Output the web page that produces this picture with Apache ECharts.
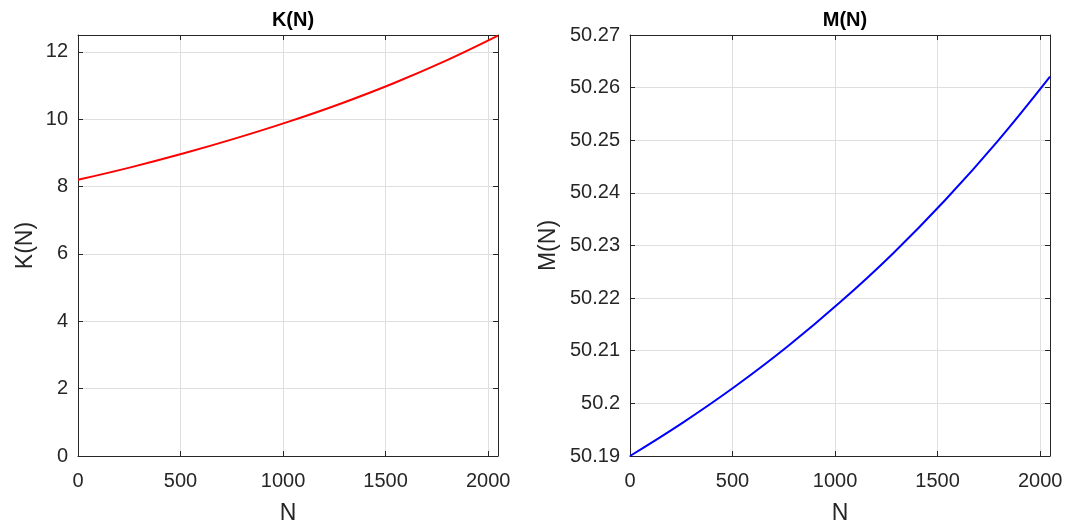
<!DOCTYPE html>
<html>
<head>
<meta charset="utf-8">
<script src="https://cdn.jsdelivr.net/npm/echarts@6/dist/echarts.min.js"></script>
<style>
  html, body { margin: 0; padding: 0; background: #fff; }
  #chart { width: 1073px; height: 525px; }
</style>
</head>
<body>
<div id="chart"></div>
<script>
// sample points
var nValues = [0, 256, 512, 768, 1024, 1280, 1536, 1792, 2048]
var kValues = [8.20, 8.57, 8.98, 9.43, 9.92, 10.46, 11.06, 11.73, 12.48]
var mValues = [50.19, 50.1963, 50.2032, 50.2108, 50.2192, 50.2284, 50.2386, 50.2498, 50.2621]

var FONT = '"Liberation Sans", Arial, Helvetica, sans-serif'
var TXT = '#262626'

function pairs(xs, ys) {
  var out = []
  for (var i = 0; i < xs.length; i++) {
    out.push([xs[i], ys[i]])
  }
  return out
}

// plain numbers, no thousands separators
function plain(v) {
  return String(Math.round(v * 10000) / 10000)
}

// bottom axis with labels
function mainX(grid) {
  return {
    gridIndex: grid, type: 'value', min: 0, max: 2048, interval: 500,
    name: 'N', nameLocation: 'middle', nameGap: 46,
    nameTextStyle: { fontFamily: FONT, fontSize: 23, color: TXT },
    axisLine: { show: true, onZero: false, lineStyle: { color: TXT, width: 1 } },
    axisTick: { show: true, inside: true, length: 5, lineStyle: { color: TXT } },
    axisLabel: { show: true, showMaxLabel: false, margin: 15, fontFamily: FONT, fontSize: 20, color: TXT, formatter: plain },
    splitLine: { show: true, lineStyle: { color: '#dfdfdf', width: 1 } }
  }
}

// top / right box edges, ticks only
function boxX(grid) {
  return {
    gridIndex: grid, type: 'value', position: 'top', min: 0, max: 2048, interval: 500,
    axisLine: { show: true, onZero: false, lineStyle: { color: TXT, width: 1 } },
    axisTick: { show: true, inside: true, length: 5, lineStyle: { color: TXT } },
    axisLabel: { show: false },
    splitLine: { show: false }
  }
}

function mainY(grid, name, min, max, interval, gap, showMax) {
  return {
    gridIndex: grid, type: 'value', min: min, max: max, interval: interval,
    name: name, nameLocation: 'middle', nameGap: gap, nameRotate: 90,
    nameTextStyle: { fontFamily: FONT, fontSize: 23, color: TXT },
    axisLine: { show: true, onZero: false, lineStyle: { color: TXT, width: 1 } },
    axisTick: { show: true, inside: true, length: 5, lineStyle: { color: TXT } },
    axisLabel: { show: true, showMaxLabel: showMax, margin: 10, fontFamily: FONT, fontSize: 20, color: TXT, formatter: plain },
    splitLine: { show: true, lineStyle: { color: '#dfdfdf', width: 1 } }
  }
}

function boxY(grid, min, max, interval) {
  return {
    gridIndex: grid, type: 'value', position: 'right', min: min, max: max, interval: interval,
    axisLine: { show: true, onZero: false, lineStyle: { color: TXT, width: 1 } },
    axisTick: { show: true, inside: true, length: 5, lineStyle: { color: TXT } },
    axisLabel: { show: false },
    splitLine: { show: false }
  }
}

var chart = echarts.init(document.getElementById('chart'))
chart.setOption({
  animation: false,
  backgroundColor: '#ffffff',
  title: [
    { text: 'K(N)', left: 288, top: 5, textAlign: 'center',
      textStyle: { fontFamily: FONT, fontSize: 20, fontWeight: 'bold', color: '#000' } },
    { text: 'M(N)', left: 840, top: 5, textAlign: 'center',
      textStyle: { fontFamily: FONT, fontSize: 20, fontWeight: 'bold', color: '#000' } }
  ],
  grid: [
    { left: 78, right: 575, top: 35, bottom: 69, outerBoundsMode: 'none', containLabel: false },
    { left: 630, right: 23, top: 35, bottom: 69, outerBoundsMode: 'none', containLabel: false }
  ],
  xAxis: [mainX(0), boxX(0), mainX(1), boxX(1)],
  yAxis: [
    mainY(0, 'K(N)', 0, 12.5, 2, 41, false),
    boxY(0, 0, 12.5, 2),
    mainY(1, 'M(N)', 50.19, 50.27, 0.01, 70, true),
    boxY(1, 50.19, 50.27, 0.01)
  ],
  series: [
    {
      name: 'K(N)', type: 'line', xAxisIndex: 0, yAxisIndex: 0,
      data: pairs(nValues, kValues), smooth: 0.4, showSymbol: false,
      lineStyle: { color: '#ff0000', width: 2 }
    },
    {
      name: 'M(N)', type: 'line', xAxisIndex: 2, yAxisIndex: 2,
      data: pairs(nValues, mValues), smooth: 0.4, showSymbol: false,
      lineStyle: { color: '#0000ff', width: 2 }
    }
  ]
})
</script>
</body>
</html>
